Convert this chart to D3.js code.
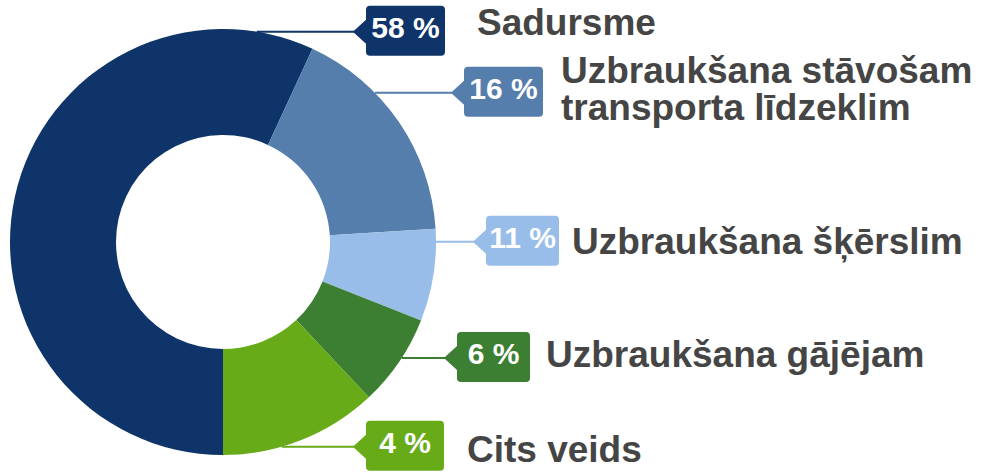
<!DOCTYPE html>
<html>
<head>
<meta charset="utf-8">
<script src="https://cdn.jsdelivr.net/npm/d3@7"></script>
<style>
  body { margin: 0; background: #fff; }
  .cat-label { font-family: "Liberation Sans", Arial, sans-serif; font-weight: bold; fill: #454545; }
  .pct-label { font-family: "Liberation Sans", Arial, sans-serif; font-weight: bold; fill: #fff; }
</style>
</head>
<body>
<div id="chart"></div>
<script>
// Data
const categories = [
  ['Sadursme'],
  ['Uzbraukšana stāvošam', 'transporta līdzeklim'],
  ['Uzbraukšana šķērslim'],
  ['Uzbraukšana gājējam'],
  ['Cits veids']
];
const percentLabels = ['58 %', '16 %', '11 %', '6 %', '4 %'];
// slice sizes as drawn (degrees of the ring turned into shares)
const sliceShares = [56.9, 17.1, 7.0, 7.0, 12.0];
const colors = ['#0e3469', '#557ead', '#98bde8', '#3d7f32', '#67ab19'];

// Label placement (the reference places each callout by hand)
const labelLayout = [
  { y: 31.7, tipX: 353, boxW: 79, textX: 477, textY: 35 },
  { y: 92.7, tipX: 451, boxW: 79, textX: 561, textY: 82.7 },
  { y: 241.7, tipX: 473, boxW: 73, textX: 572, textY: 254 },
  { y: 358, tipX: 444, boxW: 73, textX: 546, textY: 366.7 },
  { y: 446.7, tipX: 353, boxW: 78, textX: 467, textY: 462 }
];

const width = 986, height = 473;
const cx = 223, cy = 242, outerR = 213, innerR = 107;

const svg = d3.select('#chart').append('svg')
    .attr('width', width)
    .attr('height', height);

const pie = d3.pie()
    .sort(null)
    .value(d => d)
    .startAngle(Math.PI)
    .endAngle(3 * Math.PI);

const arc = d3.arc()
    .innerRadius(innerR)
    .outerRadius(outerR);

const ring = svg.append('g')
    .attr('transform', `translate(${cx},${cy})`);

ring.selectAll('path')
    .data(pie(sliceShares))
  .join('path')
    .attr('d', arc)
    .attr('fill', (d, i) => colors[i]);

// Callouts
const callouts = svg.selectAll('.callout')
    .data(categories.map((c, i) => ({ lines: c, pct: percentLabels[i], color: colors[i], lay: labelLayout[i] })))
  .join('g')
    .attr('class', 'callout');

// connector from ring edge to the box pointer
callouts.append('line')
    .attr('x1', d => cx + Math.sqrt(outerR * outerR - (d.lay.y - cy) * (d.lay.y - cy)))
    .attr('x2', d => d.lay.tipX + 2)
    .attr('y1', d => d.lay.y)
    .attr('y2', d => d.lay.y)
    .attr('stroke', d => d.color)
    .attr('stroke-width', 2);

// box with left pointer
callouts.append('path')
    .attr('fill', d => d.color)
    .attr('d', d => {
      const l = d.lay.tipX + 13, t = d.lay.y - 26, w = d.lay.boxW, h = 50, r = 4;
      const p = d3.path();
      p.moveTo(l + r, t);
      p.lineTo(l + w - r, t);
      p.quadraticCurveTo(l + w, t, l + w, t + r);
      p.lineTo(l + w, t + h - r);
      p.quadraticCurveTo(l + w, t + h, l + w - r, t + h);
      p.lineTo(l + r, t + h);
      p.quadraticCurveTo(l, t + h, l, t + h - r);
      p.lineTo(l, d.lay.y + 12);
      p.lineTo(d.lay.tipX + 1, d.lay.y + 1);
      p.quadraticCurveTo(d.lay.tipX - 1, d.lay.y, d.lay.tipX + 1, d.lay.y - 1);
      p.lineTo(l, d.lay.y - 12);
      p.lineTo(l, t + r);
      p.quadraticCurveTo(l, t, l + r, t);
      p.closePath();
      return p.toString();
    });

callouts.append('text')
    .attr('class', 'pct-label')
    .attr('x', d => d.lay.tipX + 13 + d.lay.boxW / 2)
    .attr('y', d => d.lay.y + 6)
    .attr('text-anchor', 'middle')
    .style('font-size', '30px')
    .text(d => d.pct);

callouts.append('text')
    .attr('class', 'cat-label')
    .style('font-size', '37px')
    .attr('x', d => d.lay.textX)
    .attr('y', d => d.lay.textY)
  .selectAll('tspan')
    .data(d => d.lines.map(t => ({ t, x: d.lay.textX })))
  .join('tspan')
    .attr('x', d => d.x)
    .attr('dy', (d, i) => i === 0 ? 0 : 37.3)
    .text(d => d.t);
</script>
</body>
</html>
